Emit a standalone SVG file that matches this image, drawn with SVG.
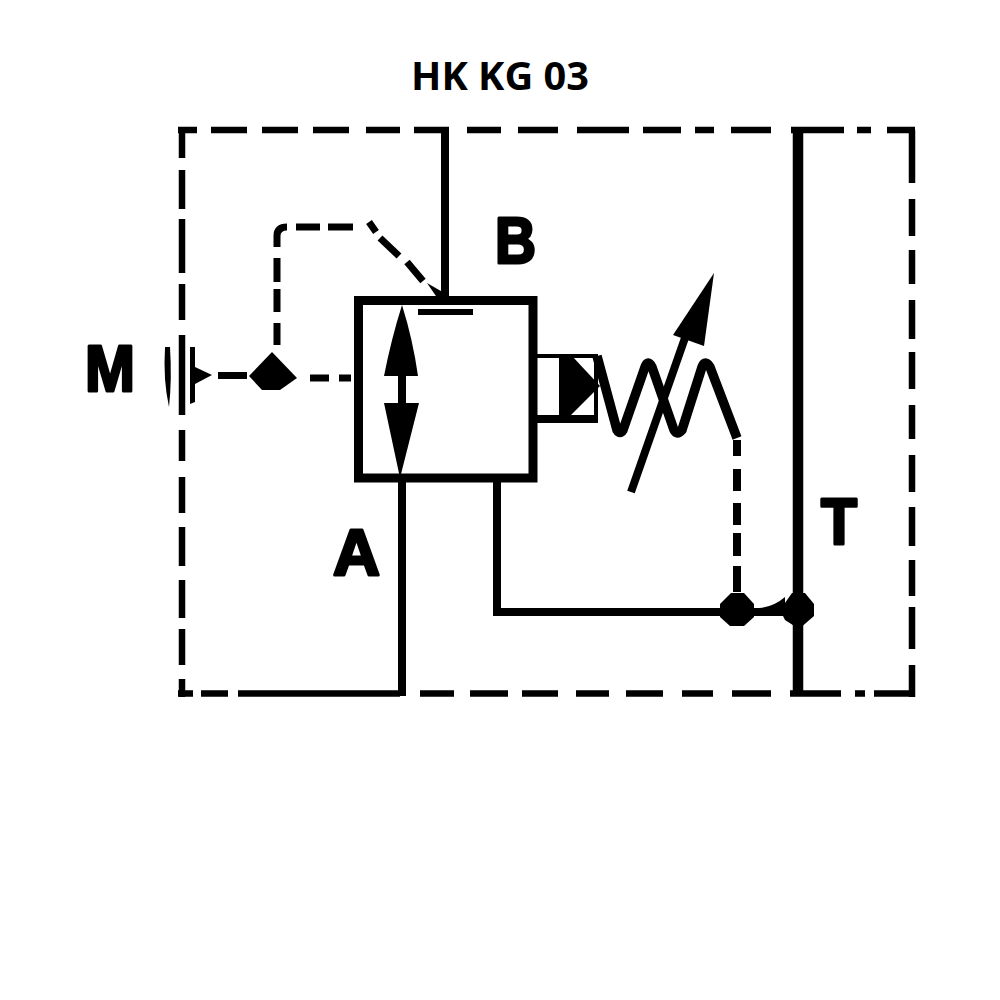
<svg xmlns="http://www.w3.org/2000/svg" width="1000" height="1000" viewBox="0 0 1000 1000">
<style>
.ln{fill:none;stroke:#000;stroke-width:8}
.d7{fill:none;stroke:#000;stroke-width:6.500}
.p{fill:none;stroke:#000;stroke-width:7}
.k{fill:#000;stroke:none}
.lab{font-family:"Liberation Sans",Arial,sans-serif;font-weight:700;font-size:64px;fill:#000;stroke:#000;stroke-width:3;stroke-linejoin:round}
.ttl{font-family:"Open Sans","Noto Sans",sans-serif;font-weight:700;font-size:39px;fill:#000}
</style>
<rect width="1000" height="1000" fill="#fff"/>
<g id="connectors">
<path id="boundary" class="d7" d="M178 130H197M211 130H247M262 130H298M313 130H349M366 130H400M414 130H449M467 130H501M518 130H558M577 130H629M643 130H681M695 130H714M731 130H771M791 130H844M857 130H871M887 130H915M912 130V183M912 199V236M912 250V284M912 300V339M912 352V389M912 405V439M912 455V492M912 507V546M912 560V596M912 607V649M912 665V697M915 693.500H874M865 693.500H855M841 693.500H790M771 693.500H732M713 693.500H682M663 693.500H626M609 693.500H576M558 693.500H522M508 693.500H470M454 693.500H420M400 693.500H238M228 693.500H201M193 693.500H178M182 697V679M182 665V629M182 618V580M182 566V527M182 513V477M182 461V430M182 415V335M182 320V284M182 273V219M182 209V170M182 158V127"/>
<path id="line-b" class="ln" d="M445 130V298"/>
<path id="line-t" d="M798 127V696" fill="none" stroke="#000" stroke-width="10.500"/>
<path id="line-a" class="ln" d="M402 478V696"/>
<path id="line-drain" class="ln" d="M497 478V612H800"/>
<path id="pilot-m" class="p" d="M218 375.500H247M310 378H329M339 378H351"/>
<path id="pilot-up" class="p" d="M277 345V323M277 312V289M277 282V258M277 247V236Q277 227 287 227M296 227H320M328 227H353"/>
<path id="pilot-diagonal" class="p" d="M369 222L376 232M380 238L399 256M407 262L423 281"/>
<path id="pilot-arrow" class="k" d="M427 283L446 294V299H438Z"/>
<path id="spring-drain" class="ln" d="M737 440V456M737 469V491M737 503V525M737 533V556M737 566V592"/>
<path id="joint-fillet" class="k" d="M750 608Q770 610 785 597V616H750Z"/>
</g>
<g id="node-valve">
<rect x="358.500" y="300.500" width="174.500" height="177.500" fill="none" stroke="#000" stroke-width="9"/>
<path class="k" d="M418 309H473V315H418Z"/>
<path id="double-arrow" class="k" d="M402 305Q413 340 418 376H406V403H419L400 478L384 403H398V376H384Q391 340 402 305Z"/>
</g>
<g id="node-spool">
<path d="M537 356H596V419H537" fill="none" stroke="#000" stroke-width="4"/>
<path class="k" d="M537 415H598V423H537Z"/>
<path class="k" d="M559 356H572L600 386L570 416H559Z"/>
</g>
<g id="node-spring">
<path d="M597 356L617 430Q620 435 623 430L645 367Q648 359 652 367L674 430Q677 436 682 430L702 367Q705 359 710 367L737 438" fill="none" stroke="#000" stroke-width="9.500"/>
<path class="ln" d="M631 492L686 335"/>
<path class="k" d="M714 273L704 346L673 335Z"/>
</g>
<g id="node-port-m">
<path class="k" d="M165 347H170Q172 380 169 407Q163 380 165 347Z"/>
<path class="k" d="M190 347H195V402L190 404Z"/>
<path class="k" d="M195 367L212 375L195 384Z"/>
</g>
<g id="node-junction-m">
<path class="k" d="M249 376L272 352L297 378L280 390H262Z"/>
</g>
<g id="node-junction-drain">
<path class="k" d="M731 593H744L754 604V617L744 626H730L720 617V604Z"/>
</g>
<g id="node-junction-t">
<path class="k" d="M792 593H805L814 604V616L799 629L785 620L780 610Z"/>
</g>
<g id="labels">
<text class="ttl" x="500" y="90" text-anchor="middle" textLength="178" lengthAdjust="spacingAndGlyphs">HK KG 03</text>
<text class="lab" x="85" y="391" textLength="50" lengthAdjust="spacingAndGlyphs">M</text>
<text class="lab" x="495" y="263" textLength="41" lengthAdjust="spacingAndGlyphs">B</text>
<text class="lab" x="333" y="575" textLength="47" lengthAdjust="spacingAndGlyphs">A</text>
<text class="lab" x="821" y="544" textLength="36" lengthAdjust="spacingAndGlyphs">T</text>
</g>
</svg>
